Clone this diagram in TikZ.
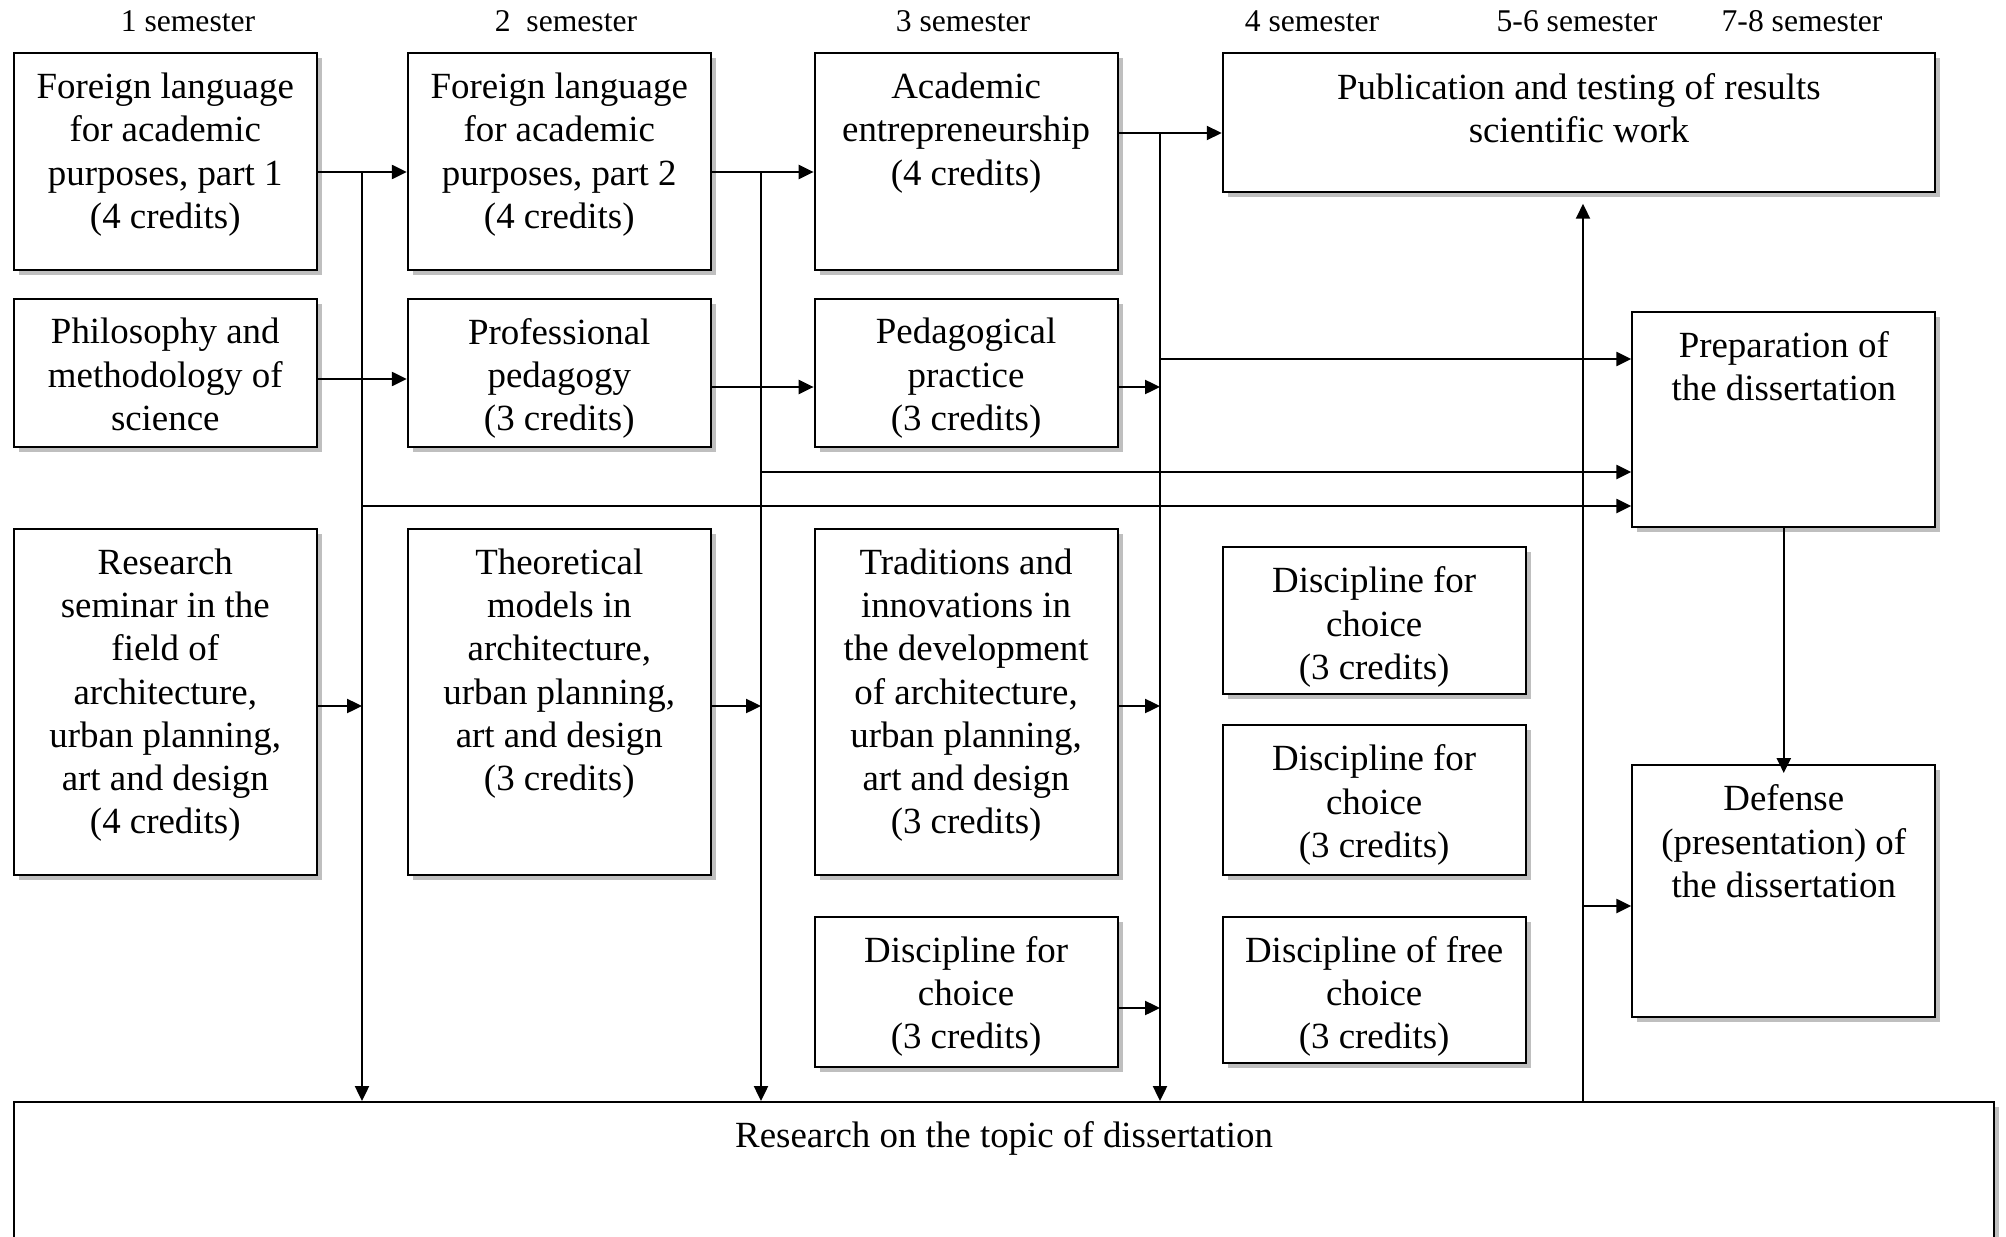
\documentclass[tikz,border=0pt]{standalone}
\usepackage{fontspec}
\setmainfont{Liberation Serif}
\usetikzlibrary{positioning,shadows,arrows.meta}

\begin{document}
\begin{tikzpicture}[x=0.02cm, y=-0.02cm,
  box/.style={draw, line width=1.15pt, fill=white, anchor=north west,
    inner sep=0pt, minimum width=6.06cm,
    drop shadow={opacity=1, fill=black!25, shadow xshift=0.1cm, shadow yshift=-0.1cm}},
  txt/.style={inner sep=0pt, align=center, font=\fontsize{21}{24.6}\selectfont},
  head/.style={anchor=base, inner sep=0pt, font=\fontsize{18}{21}\selectfont},
  arr/.style={line width=1.15pt, -{Triangle[length=8.5pt,width=8pt]}}]

  \useasboundingbox (0,0) rectangle (2006,1237);
  \clip (0,0) rectangle (2006,1237);

  % Semester headers
  \node[head] (s1)  at (188,32)  {1 semester};
  \node[head] (s2)  at (566,32)  {2~~semester};
  \node[head] (s3)  at (963,32)  {3 semester};
  \node[head] (s4)  at (1312,32) {4 semester};
  \node[head] (s56) at (1577,32) {5-6 semester};
  \node[head] (s78) at (1802,32) {7-8 semester};

  % Semester 1
  \node[box, minimum height=4.33cm] (fl1)  at (12.8,52.3) {};
  \node[box, minimum height=2.98cm] (phil) at (12.8,297.5) {};
  \node[box, minimum height=6.92cm] (sem)  at (12.8,528) {};
  \node[txt, below=0.41cm of fl1.north]  (fl1t)  {Foreign language\\for academic\\purposes, part 1\\(4 credits)};
  \node[txt, below=0.41cm of phil.north] (philt) {Philosophy and\\methodology of\\science};
  \node[txt, below=0.41cm of sem.north]  (semt)  {Research\\seminar in the\\field of\\architecture,\\urban planning,\\art and design\\(4 credits)};

  % Semester 2
  \node[box, minimum height=4.33cm] (fl2)  at (406.8,52.3) {};
  \node[box, minimum height=2.98cm] (prof) at (406.8,297.5) {};
  \node[box, minimum height=6.92cm] (theo) at (406.8,528) {};
  \node[txt, below=0.41cm of fl2.north]  (fl2t)  {Foreign language\\for academic\\purposes, part 2\\(4 credits)};
  \node[txt, below=0.41cm of prof.north] (proft) {Professional\\pedagogy\\(3 credits)};
  \node[txt, below=0.41cm of theo.north] (theot) {Theoretical\\models in\\architecture,\\urban planning,\\art and design\\(3 credits)};

  % Semester 3
  \node[box, minimum height=4.33cm] (acad) at (813.6,52.3) {};
  \node[box, minimum height=2.98cm] (ped)  at (813.6,297.5) {};
  \node[box, minimum height=6.92cm] (trad) at (813.6,528) {};
  \node[box, minimum height=3.0cm]  (dis3) at (813.6,915.7) {};
  \node[txt, below=0.41cm of acad.north] (acadt) {Academic\\entrepreneurship\\(4 credits)};
  \node[txt, below=0.41cm of ped.north]  (pedt)  {Pedagogical\\practice\\(3 credits)};
  \node[txt, below=0.41cm of trad.north] (tradt) {Traditions and\\innovations in\\the development\\of architecture,\\urban planning,\\art and design\\(3 credits)};
  \node[txt, below=0.41cm of dis3.north] (dis3t) {Discipline for\\choice\\(3 credits)};

  % Semester 4
  \node[box, minimum height=2.94cm] (disa) at (1221.7,546) {};
  \node[box, minimum height=3.0cm]  (disb) at (1221.7,724) {};
  \node[box, minimum height=2.92cm] (free) at (1221.7,915.7) {};
  \node[txt, below=0.41cm of disa.north] (disat) {Discipline for\\choice\\(3 credits)};
  \node[txt, below=0.41cm of disb.north] (disbt) {Discipline for\\choice\\(3 credits)};
  \node[txt, below=0.41cm of free.north] (freet) {Discipline of free\\choice\\(3 credits)};

  % Semesters 5-8
  \node[box, minimum width=14.25cm, minimum height=2.77cm] (pub) at (1221.7,52.3) {};
  \node[box, minimum height=4.32cm] (prep) at (1631.3,310.5) {};
  \node[box, minimum height=5.04cm] (def)  at (1631.3,764) {};
  \node[txt, below=0.41cm of pub.north]  (pubt)  {Publication and testing of results\\scientific work};
  \node[txt, below=0.41cm of prep.north] (prept) {Preparation of\\the dissertation};
  \node[txt, below=0.41cm of def.north]  (deft)  {Defense\\(presentation) of\\the dissertation};

  % Research on the topic
  \node[box, minimum width=39.62cm, minimum height=4cm] (thesis) at (12.8,1101) {};
  \node[txt, below=0.41cm of thesis.north] (thesist) {Research on the topic of dissertation};

  % Bus lines and rows
  \coordinate (bus1) at (362,172);
  \coordinate (bus2) at (761,172);
  \coordinate (bus3) at (1160,133);
  \coordinate (bus4) at (1583,0);
  \coordinate (rowC) at (0,359);
  \coordinate (rowD) at (0,379);
  \coordinate (rowE) at (0,387);
  \coordinate (rowF) at (0,472);
  \coordinate (rowG) at (0,506);
  \coordinate (rowH) at (0,706);
  \coordinate (rowI) at (0,906);
  \coordinate (rowJ) at (0,1008);

  % Semester 1 links
  \draw[arr] (fl1.east |- bus1) -- (fl2.west |- bus1);
  \draw[arr] (bus1) -- (bus1 |- thesis.north);
  \draw[arr] (phil.east |- rowD) -- (prof.west |- rowD);
  \draw[arr] (sem.east |- rowH) -- (bus1 |- rowH);
  \draw[arr] (bus1 |- rowG) -- (prep.west |- rowG);

  % Semester 2 links
  \draw[arr] (fl2.east |- bus2) -- (acad.west |- bus2);
  \draw[arr] (bus2) -- (bus2 |- thesis.north);
  \draw[arr] (prof.east |- rowE) -- (ped.west |- rowE);
  \draw[arr] (theo.east |- rowH) -- (bus2 |- rowH);
  \draw[arr] (bus2 |- rowF) -- (prep.west |- rowF);

  % Semester 3 links
  \draw[arr] (acad.east |- bus3) -- (pub.west |- bus3);
  \draw[arr] (bus3) -- (bus3 |- thesis.north);
  \draw[arr] (ped.east |- rowE) -- (bus3 |- rowE);
  \draw[arr] (trad.east |- rowH) -- (bus3 |- rowH);
  \draw[arr] (dis3.east |- rowJ) -- (bus3 |- rowJ);
  \draw[arr] (bus3 |- rowC) -- (prep.west |- rowC);

  % Research, publication and defense
  \draw[arr, shorten >=0.22cm] (thesis.north -| bus4) -- (pub.south -| bus4);
  \draw[arr] (bus4 |- rowI) -- (def.west |- rowI);
  \draw[arr, shorten >=-0.18cm] (prep.south) -- (def.north);

\end{tikzpicture}
\end{document}
